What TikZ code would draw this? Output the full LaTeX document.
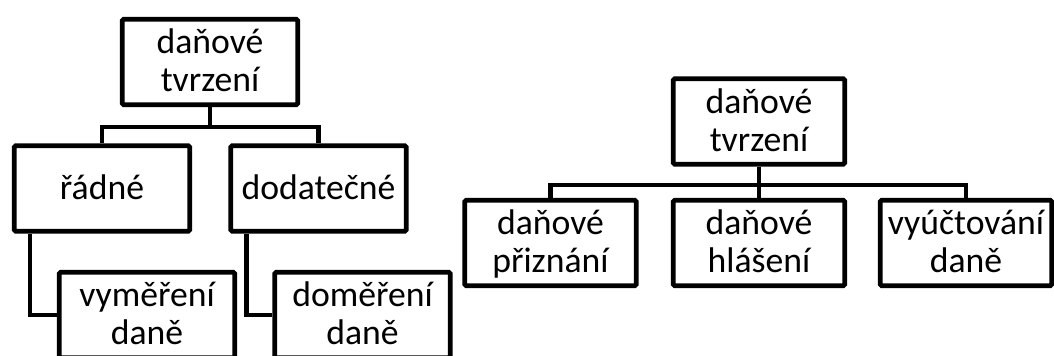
\documentclass[tikz,border=0pt]{standalone}
\usepackage{fontspec}
\setmainfont{Carlito}
\usetikzlibrary{calc}

\tikzset{
    box/.style={draw, line width=3.4pt, rounded corners=1pt, inner sep=0pt,
        minimum width=175.5*0.75pt, minimum height=85.5*0.75pt, align=center,
        text depth=0.22em, font=\fontsize{26.75}{28.5}\selectfont},
    sbox/.style={box, minimum width=171.5*0.75pt},
    link/.style={line width=3.4pt, line join=miter}
}

\begin{document}
\begin{tikzpicture}[x=0.75pt, y=-0.75pt]
        \useasboundingbox (0,0) rectangle (1054,356);

        % linker Baum
        \node[box] (tvrzA) at (210,62) {daňové\\tvrzení};
        \node[box] (radne) at (102,188.5) {řádné};
        \node[box] (dodat) at (318.5,188.5) {dodatečné};
        \node[box] (vymer) at (147,315) {vyměření\\daně};
        \node[box] (domer) at (362.5,315) {doměření\\daně};

        \coordinate (jA) at ($(tvrzA.south)+(0,20)$);
        \draw[link] (tvrzA.south) -- (jA);
        \draw[link] (radne.north) |- (jA) -| (dodat.north);
        \draw[link] ($(radne.south west)+(18,0)$) |- (vymer.west);
        \draw[link] ($(dodat.south west)+(18,0)$) |- (domer.west);

        % rechter Baum
        \node[sbox] (tvrzB) at (759,121.5) {daňové\\tvrzení};
        \node[sbox] (prizn) at (550.5,243) {daňové\\přiznání};
        \node[sbox] (hlas) at (759,243) {daňové\\hlášení};
        \node[sbox] (vyuct) at (966,243) {vyúčtování\\daně};

        \coordinate (jB) at ($(tvrzB.south)+(0,18.5)$);
        \draw[link] (tvrzB.south) -- (hlas.north);
        \draw[link] (prizn.north) |- (jB) -| (vyuct.north);
\end{tikzpicture}
\end{document}
